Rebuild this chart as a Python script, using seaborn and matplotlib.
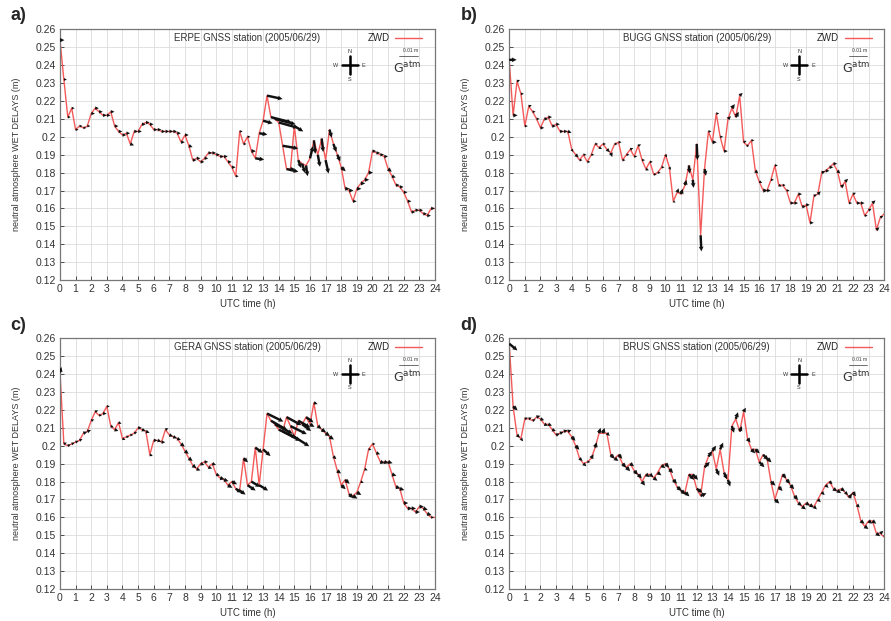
import numpy as np
import matplotlib
matplotlib.use("Agg")
from matplotlib import pyplot as plt
from matplotlib.ticker import FuncFormatter
import seaborn as sns

# 15 min sampling of the day (UTC hours)
TIME_H = np.arange(0, 24.01, 0.25)

STATIONS = ["ERPE", "BUGG", "GERA", "BRUS"]
LETTERS = ["a)", "b)", "c)", "d)"]

# zenith wet delays (m)
ERPE_ZWD = [0.254, 0.232, 0.211, 0.216, 0.204, 0.206, 0.205, 0.206,
            0.213, 0.216, 0.214, 0.212, 0.212, 0.214, 0.206, 0.203,
            0.201, 0.202, 0.196, 0.203, 0.203, 0.207, 0.208, 0.207,
            0.204, 0.204, 0.203, 0.203, 0.203, 0.203, 0.202, 0.197,
            0.201, 0.195, 0.187, 0.188, 0.186, 0.188, 0.191, 0.191,
            0.190, 0.189, 0.189, 0.186, 0.183, 0.178, 0.203, 0.196,
            0.200, 0.192, 0.188, 0.202, 0.209, 0.223, 0.211, 0.210,
            0.208, 0.195, 0.182, 0.182, 0.206, 0.187, 0.185, 0.184,
            0.188, 0.198, 0.190, 0.199, 0.187, 0.204, 0.196, 0.190,
            0.183, 0.171, 0.170, 0.164, 0.171, 0.174, 0.176, 0.180,
            0.192, 0.191, 0.190, 0.189, 0.182, 0.178, 0.173, 0.172,
            0.169, 0.164, 0.158, 0.159, 0.159, 0.157, 0.156, 0.160,
            0.160]
BUGG_ZWD = [0.243, 0.212, 0.231, 0.224, 0.206, 0.217, 0.214, 0.210,
            0.205, 0.210, 0.211, 0.206, 0.207, 0.203, 0.203, 0.203,
            0.193, 0.190, 0.187, 0.190, 0.186, 0.190, 0.196, 0.194,
            0.196, 0.193, 0.191, 0.196, 0.197, 0.187, 0.190, 0.193,
            0.189, 0.195, 0.187, 0.182, 0.186, 0.179, 0.180, 0.183,
            0.190, 0.183, 0.164, 0.169, 0.168, 0.173, 0.184, 0.176,
            0.196, 0.145, 0.182, 0.203, 0.197, 0.213, 0.200, 0.192,
            0.210, 0.216, 0.211, 0.223, 0.197, 0.195, 0.198, 0.181,
            0.175, 0.170, 0.170, 0.176, 0.184, 0.173, 0.173, 0.170,
            0.163, 0.163, 0.168, 0.161, 0.162, 0.152, 0.167, 0.168,
            0.180, 0.181, 0.183, 0.185, 0.181, 0.172, 0.175, 0.163,
            0.168, 0.163, 0.163, 0.156, 0.159, 0.163, 0.148, 0.155,
            0.157]
GERA_ZWD = [0.241, 0.201, 0.200, 0.201, 0.202, 0.203, 0.207, 0.208,
            0.214, 0.219, 0.217, 0.218, 0.222, 0.211, 0.209, 0.213,
            0.204, 0.205, 0.206, 0.207, 0.210, 0.209, 0.208, 0.195,
            0.203, 0.203, 0.202, 0.209, 0.206, 0.205, 0.204, 0.201,
            0.197, 0.193, 0.189, 0.187, 0.190, 0.191, 0.188, 0.190,
            0.184, 0.182, 0.181, 0.178, 0.180, 0.176, 0.175, 0.193,
            0.178, 0.180, 0.199, 0.178, 0.198, 0.218, 0.214, 0.212,
            0.209, 0.208, 0.216, 0.211, 0.205, 0.214, 0.212, 0.216,
            0.212, 0.224, 0.211, 0.209, 0.207, 0.205, 0.194, 0.186,
            0.178, 0.181, 0.173, 0.172, 0.174, 0.180, 0.187, 0.198,
            0.201, 0.196, 0.191, 0.191, 0.191, 0.184, 0.177, 0.176,
            0.168, 0.165, 0.165, 0.163, 0.166, 0.165, 0.162, 0.160,
            0.160]
BRUS_ZWD = [0.257, 0.222, 0.206, 0.204, 0.215, 0.215, 0.214, 0.216,
            0.215, 0.212, 0.212, 0.209, 0.206, 0.207, 0.208, 0.208,
            0.205, 0.200, 0.193, 0.190, 0.191, 0.193, 0.199, 0.207,
            0.207, 0.207, 0.195, 0.193, 0.195, 0.190, 0.188, 0.190,
            0.186, 0.184, 0.180, 0.184, 0.184, 0.182, 0.185, 0.189,
            0.190, 0.187, 0.181, 0.177, 0.175, 0.174, 0.184, 0.184,
            0.176, 0.172, 0.188, 0.194, 0.197, 0.187, 0.198, 0.185,
            0.181, 0.211, 0.215, 0.208, 0.219, 0.204, 0.198, 0.198,
            0.191, 0.195, 0.193, 0.180, 0.170, 0.177, 0.184, 0.181,
            0.178, 0.172, 0.168, 0.166, 0.168, 0.167, 0.166, 0.170,
            0.174, 0.178, 0.180, 0.176, 0.175, 0.176, 0.174, 0.171,
            0.174, 0.167, 0.158, 0.155, 0.158, 0.158, 0.151, 0.151,
            0.149]

# horizontal gradients (mm): east and north components
ERPE_GE = [0.3, 0.2, 0.2, 0.2, 0.2, 0.2, 0.2, 0.2,
           0.25, 0.25, 0.25, 0.25, 0.25, 0.25, 0.25, 0.25,
           0.25, 0.25, 0.25, 0.25, 0.25, 0.25, 0.25, 0.25,
           0.25, 0.25, 0.25, 0.25, 0.25, 0.25, 0.25, 0.25,
           0.25, 0.25, 0.25, 0.25, 0.25, 0.25, 0.25, 0.25,
           0.25, 0.25, 0.25, 0.25, 0.25, 0.2, 0.2, 0.2,
           0.2, 0.3, 0.6, 0.55, 0.65, 1.05, 1.4, 1.4,
           1.3, 1.05, 0.8, 0.3, 0.6, 0.2, 0.2, 0.1,
           0.2, 0.1, 0.15, 0.1, 0.2, 0.15, 0.2, 0.2,
           0.3, 0.3, 0.3, 0.25, 0.3, 0.3, 0.3, 0.3,
           0.25, 0.25, 0.25, 0.25, 0.25, 0.25, 0.25, 0.25,
           0.25, 0.25, 0.25, 0.25, 0.25, 0.25, 0.25, 0.25,
           0.2]
ERPE_GN = [0.0, 0.0, 0.0, 0.0, 0.0, 0.0, 0.0, 0.0,
           0.0, 0.0, 0.0, 0.0, 0.0, 0.0, 0.0, 0.0,
           0.0, 0.0, -0.1, 0.0, 0.0, 0.0, 0.0, 0.0,
           0.0, 0.0, 0.0, 0.0, 0.0, 0.0, 0.0, 0.0,
           0.0, -0.1, 0.0, 0.0, 0.0, 0.0, 0.0, 0.0,
           0.0, 0.0, 0.0, 0.0, 0.0, 0.0, 0.0, 0.0,
           0.0, 0.0, -0.1, -0.1, -0.2, -0.25, -0.4, -0.4,
           -0.4, -0.2, -0.2, 0.0, -0.4, -0.6, -0.7, -0.8,
           0.9, -1.0, -0.9, -1.0, -1.0, -0.6, -0.6, -0.5,
           -0.3, 0.0, 0.0, 0.0, 0.0, 0.0, 0.0, 0.0,
           0.0, 0.0, 0.0, 0.0, -0.2, -0.1, 0.0, 0.0,
           0.0, 0.0, 0.0, 0.0, 0.0, 0.0, 0.0, 0.0,
           0.0]
BUGG_GE = [0.5, 0.3, 0.2, 0.2, 0.2, 0.2, 0.2, 0.2,
           0.25, 0.25, 0.25, 0.25, 0.25, 0.25, 0.25, 0.25,
           0.1, 0.2, 0.2, 0.2, 0.2, 0.2, 0.2, 0.2,
           0.2, 0.2, 0.1, 0.2, 0.2, 0.2, 0.2, 0.2,
           0.2, 0.2, 0.2, 0.2, 0.2, 0.2, 0.2, 0.2,
           0.1, 0.1, 0.15, 0.1, 0.1, 0.1, 0.05, 0.05,
           0.05, 0.05, 0.1, 0.2, 0.3, 0.2, 0.2, 0.25,
           0.2, 0.2, 0.2, 0.2, 0.2, 0.1, 0.2, 0.2,
           0.2, 0.3, 0.25, 0.2, 0.2, 0.2, 0.2, 0.2,
           0.25, 0.25, 0.25, 0.25, 0.25, 0.25, 0.2, 0.2,
           0.25, 0.25, 0.25, 0.25, 0.2, 0.2, 0.2, 0.2,
           0.2, 0.25, 0.25, 0.2, 0.2, 0.2, 0.2, 0.2,
           0.2]
BUGG_GN = [0.0, 0.0, 0.1, 0.0, 0.0, 0.1, 0.0, 0.0,
           0.0, 0.0, 0.0, 0.0, 0.0, 0.0, 0.0, -0.1,
           -0.2, -0.2, 0.0, 0.0, 0.0, 0.0, 0.0, -0.1,
           0.0, -0.2, -0.3, 0.0, 0.0, 0.0, 0.0, 0.1,
           0.0, 0.1, 0.0, -0.1, 0.0, 0.0, 0.0, 0.0,
           -0.2, -0.2, -0.1, 0.3, 0.4, 0.4, -0.6, -0.6,
           -1.2, -1.2, -0.5, 0.0, 0.0, 0.0, 0.0, 0.0,
           0.2, 0.3, 0.4, 0.2, 0.1, 0.0, 0.0, -0.2,
           -0.1, 0.0, 0.0, 0.0, 0.0, -0.1, 0.0, 0.0,
           0.0, 0.0, 0.0, 0.0, 0.0, 0.0, 0.1, 0.2,
           0.1, 0.0, 0.0, 0.0, -0.2, 0.2, 0.2, 0.0,
           0.1, 0.0, 0.0, 0.0, 0.1, 0.2, 0.2, 0.1,
           0.1]
GERA_GE = [0.1, 0.2, 0.2, 0.2, 0.2, 0.2, 0.25, 0.25,
           0.2, 0.2, 0.2, 0.25, 0.2, 0.2, 0.25, 0.2,
           0.2, 0.2, 0.2, 0.2, 0.25, 0.25, 0.25, 0.2,
           0.25, 0.25, 0.25, 0.2, 0.25, 0.25, 0.25, 0.25,
           0.25, 0.25, 0.25, 0.25, 0.25, 0.25, 0.25, 0.25,
           0.25, 0.3, 0.3, 0.3, 0.35, 0.4, 0.4, 0.3,
           0.55, 0.6, 0.5, 0.6, 0.5, 1.1, 1.1, 1.2,
           1.2, 1.2, 1.0, 1.1, 1.0, 0.8, 0.6, 0.5,
           0.3, 0.25, 0.25, 0.3, 0.3, 0.3, 0.2, 0.25,
           0.3, 0.3, 0.3, 0.3, 0.3, 0.2, 0.2, 0.2,
           0.2, 0.25, 0.3, 0.3, 0.3, 0.3, 0.3, 0.3,
           0.3, 0.3, 0.3, 0.3, 0.3, 0.3, 0.3, 0.2,
           0.2]
GERA_GN = [0.4, 0.1, 0.1, 0.1, 0.1, 0.1, 0.1, 0.1,
           0.1, 0.1, 0.0, 0.0, 0.0, -0.1, -0.1, -0.1,
           -0.1, 0.0, 0.0, 0.1, 0.0, -0.1, -0.1, -0.1,
           0.0, -0.1, 0.0, 0.1, -0.1, -0.1, -0.1, -0.2,
           -0.2, -0.2, -0.2, -0.1, -0.1, 0.0, -0.1, -0.1,
           -0.1, -0.1, -0.1, -0.2, -0.2, -0.3, -0.3, -0.3,
           -0.4, -0.4, -0.4, -0.4, -0.5, -0.6, -0.7, -0.7,
           -0.6, -0.7, -0.6, -0.6, -0.7, -0.5, -0.5, -0.4,
           -0.2, -0.1, -0.2, -0.2, -0.2, -0.2, -0.2, -0.2,
           -0.3, -0.3, -0.3, -0.2, -0.2, -0.1, -0.1, 0.0,
           0.0, -0.1, -0.1, -0.1, -0.1, -0.1, -0.1, -0.1,
           0.0, 0.0, 0.0, 0.0, 0.0, -0.1, -0.1, 0.0,
           0.0]
BRUS_GE = [0.55, 0.3, 0.2, 0.15, 0.2, 0.2, 0.2, 0.25,
           0.25, 0.25, 0.25, 0.25, 0.25, 0.25, 0.25, 0.25,
           0.25, 0.25, 0.2, 0.2, 0.2, 0.15, 0.1, 0.1,
           0.1, 0.2, 0.25, 0.25, 0.25, 0.25, 0.25, 0.25,
           0.25, 0.25, 0.2, 0.25, 0.25, 0.25, 0.25, 0.25,
           0.25, 0.25, 0.25, 0.3, 0.3, 0.3, 0.35, 0.35,
           0.4, 0.4, 0.35, 0.25, 0.25, 0.2, 0.2, 0.2,
           0.15, 0.15, 0.15, 0.15, 0.15, 0.2, 0.25, 0.3,
           0.35, 0.35, 0.3, 0.3, 0.3, 0.25, 0.25, 0.25,
           0.25, 0.25, 0.25, 0.25, 0.25, 0.25, 0.2, 0.2,
           0.2, 0.2, 0.2, 0.25, 0.25, 0.25, 0.2, 0.2,
           0.2, 0.2, 0.25, 0.25, 0.25, 0.25, 0.25, 0.2,
           0.2]
BRUS_GN = [-0.5, -0.3, -0.2, -0.2, 0.1, 0.1, 0.1, 0.1,
           -0.1, -0.1, -0.1, -0.1, 0.1, 0.1, 0.1, 0.1,
           -0.3, -0.3, -0.2, -0.2, 0.0, 0.3, 0.4, 0.4,
           0.4, -0.2, -0.3, -0.2, -0.3, -0.3, -0.3, -0.2,
           -0.3, -0.3, -0.3, -0.2, -0.2, -0.2, -0.2, -0.2,
           -0.3, -0.3, -0.3, -0.3, -0.3, -0.3, -0.4, -0.4,
           -0.3, 0.2, 0.4, 0.4, 0.4, -0.5, 0.5, -0.5,
           -0.5, -0.5, 0.5, 0.4, 0.3, -0.3, -0.3, -0.3,
           -0.4, -0.4, -0.3, -0.3, -0.3, -0.3, -0.3, -0.3,
           -0.3, -0.3, -0.2, -0.2, -0.2, -0.2, -0.2, -0.2,
           -0.2, -0.2, -0.2, -0.2, -0.2, -0.2, -0.2, 0.3,
           -0.3, -0.2, -0.2, -0.2, -0.2, -0.2, -0.2, 0.2,
           0.2]

ZWD = [ERPE_ZWD, BUGG_ZWD, GERA_ZWD, BRUS_ZWD]
GRAD_E = [ERPE_GE, BUGG_GE, GERA_GE, BRUS_GE]
GRAD_N = [ERPE_GN, BUGG_GN, GERA_GN, BRUS_GN]

# arrow scaling: mm of gradient -> hours / metres on the plot
ARROW_X = 0.95
ARROW_Y = 0.0075

sns.set_style("ticks")
plt.rcParams["font.family"] = ["Liberation Sans", "DejaVu Sans"]

fig = plt.figure(figsize=(8.91, 6.21), dpi=100)
positions = [[0.0673, 0.549, 0.4209, 0.4037],
             [0.5715, 0.549, 0.4209, 0.4037],
             [0.0673, 0.0515, 0.4209, 0.4037],
             [0.5715, 0.0515, 0.4209, 0.4037]]
letter_pos = [(0.012, 0.975), (0.517, 0.975), (0.012, 0.476), (0.517, 0.476)]

yticks = np.round(np.arange(0.12, 0.2601, 0.01), 2)

for i in range(4):
    ax = fig.add_axes(positions[i])
    zwd = np.array(ZWD[i])
    ge = np.array(GRAD_E[i])
    gn = np.array(GRAD_N[i])

    ax.grid(True, color="#dcdcdc", lw=0.6, zorder=0)
    for yv in [0.17, 0.21]:
        ax.axhline(yv, color="#c2c2c2", lw=0.8, zorder=0)
    ax.axvline(16, color="#c2c2c2", lw=0.8, zorder=0)

    sns.lineplot(x=TIME_H, y=zwd, ax=ax, color="#f45a5a", lw=1.0,
                 label="ZWD", zorder=2)
    ax.quiver(TIME_H, zwd, ge * ARROW_X, gn * ARROW_Y, angles="xy",
              scale_units="xy", scale=1, color="#111111", width=0.0065,
              headwidth=2.0, headlength=2.0, headaxislength=1.8, zorder=3)

    ax.set_xlim(0, 24)
    ax.set_ylim(0.12, 0.26)
    ax.set_xticks(range(0, 25))
    ax.set_yticks(yticks)
    ax.yaxis.set_major_formatter(FuncFormatter(lambda v, p: "{:g}".format(round(v, 2))))
    ax.tick_params(direction="in", length=3, labelsize=7.5, colors="#333333",
                   pad=3, width=0.6)
    for sp in ax.spines.values():
        sp.set_color("#777777")
        sp.set_linewidth(0.9)
    ax.set_xlabel("UTC time (h)", fontsize=7, color="#333333")
    ax.set_ylabel("neutral atmosphere WET DELAYS (m)", fontsize=6.5, color="#333333")
    ax.xaxis.set_label_coords(0.5, -0.075)
    ax.yaxis.set_label_coords(-0.105, 0.5)

    ax.legend(loc="upper right", markerfirst=False, frameon=False, fontsize=7,
              handlelength=2.8, handletextpad=0.6, bbox_to_anchor=(0.99, 1.02))
    ax.text(0.5, 0.965, STATIONS[i] + " GNSS station (2005/06/29)",
            transform=ax.transAxes, ha="center", va="center", fontsize=7,
            color="#333333")

    # compass rose
    cx, cy = 0.773, 0.857
    ax.plot([cx - 0.022, cx + 0.022], [cy, cy], transform=ax.transAxes,
            color="k", lw=1.8, zorder=4)
    ax.plot([cx, cx], [cy - 0.035, cy + 0.035], transform=ax.transAxes,
            color="k", lw=1.8, zorder=4)
    for lab, dx, dy in [("N", 0, 0.055), ("S", 0, -0.055), ("W", -0.037, 0), ("E", 0.037, 0)]:
        ax.text(cx + dx, cy + dy, lab, transform=ax.transAxes, ha="center",
                va="center", fontsize=4, color="#333333")

    # gradient scale symbol
    ax.text(0.925, 0.845, r"$\mathrm{G}^{\mathrm{atm}}$", transform=ax.transAxes,
            ha="center", va="center", fontsize=9, color="#333333")
    ax.text(0.935, 0.915, "0.01 m", transform=ax.transAxes, ha="center",
            va="center", fontsize=3.5, color="#333333")
    ax.plot([0.905, 0.955], [0.892, 0.892], transform=ax.transAxes,
            color="#333333", lw=0.5)

    fig.text(letter_pos[i][0], letter_pos[i][1], LETTERS[i], fontsize=13,
             fontweight="bold", ha="left", va="center")

fig.savefig("out.png", dpi=100)
